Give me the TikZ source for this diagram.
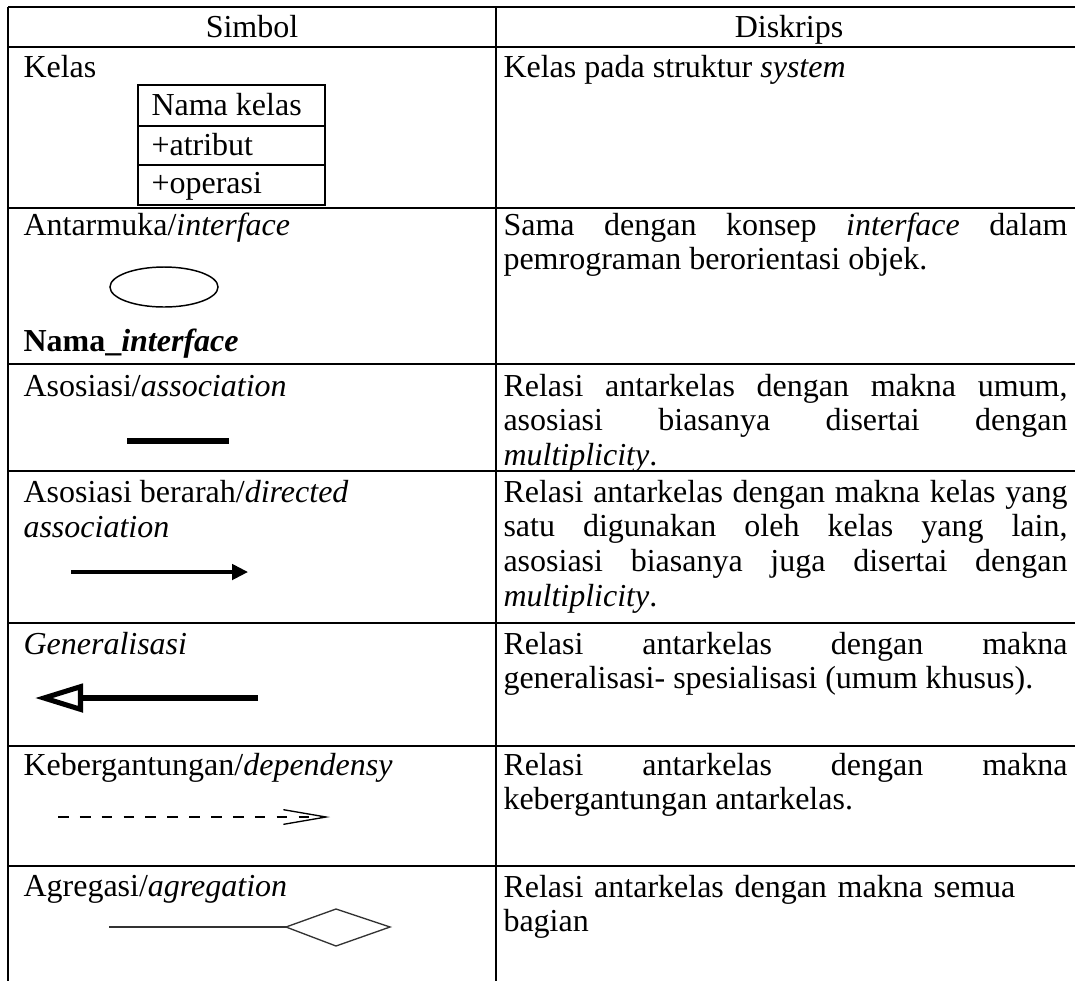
\documentclass[tikz,border=0pt]{standalone}
\usepackage{fontspec}
\setmainfont{Liberation Serif}
\usetikzlibrary{arrows.meta,positioning}

\begin{document}
\begin{tikzpicture}[x=0.375pt,y=-0.375pt,
    grid/.style={line width=0.8pt},
    txt/.style={anchor=base west,inner sep=0pt,font=\fontsize{12}{13}\selectfont},
    desc/.style={txt,text width=211.5pt,align=justify},
    hdr/.style={anchor=base,inner sep=0pt,font=\fontsize{12}{13}\selectfont}]
      \def\xl{8}
      \def\xm{496}
      \def\xr{1090}
      \def\xs{23}
      \def\xd{503}

      \useasboundingbox (0,0) rectangle (1075,980);
      \clip (0,0) rectangle (1075,980);

      \foreach \y in {7,47,208,364,471,623,746,866}
        \draw[grid] (\xl,\y) -- (\xr,\y);
      \draw[grid] (\xl,7) -- (\xl,990);
      \draw[grid] (\xm,7) -- (\xm,990);

      \node[hdr] (simbol) at (252,37) {Simbol};
      \node[hdr] (diskrips) at (789,37) {Diskrips};

      \node[txt] (kelas) at (\xs,77) {Kelas};
      \draw[grid] (138,85) rectangle (325,126);
      \draw[grid] (138,126) rectangle (325,165);
      \draw[grid] (138,165) rectangle (325,205);
      \node[txt] (namakelas) at (151,115) {Nama kelas};
      \node[txt] (atribut) at (151,155) {+atribut};
      \node[txt] (operasi) at (151,193) {+operasi};
      \node[desc] (dkelas) at (\xd,77) {Kelas pada struktur \textit{system}};

      \node[txt] (antarmuka) at (\xs,235) {Antarmuka/\textit{interface}};
      \draw[line width=0.55pt] (164,287) ellipse [x radius=54, y radius=20];
      \node[txt] (namaif) at (\xs,351) {\textbf{Nama\_\textit{interface}}};
      \node[desc] (dantarmuka) at (\xd,235) {Sama dengan konsep \textit{interface} dalam\linebreak
        pemrograman berorientasi objek.};

      \node[txt] (asosiasi) at (\xs,396) {Asosiasi/\textit{association}};
      \coordinate (as1) at (127,441);
      \coordinate (as2) at (229,441);
      \draw[line width=2.25pt] (as1) -- (as2);
      \node[desc] (dasosiasi) at (\xd,396) {Relasi antarkelas dengan makna umum,\linebreak
        asosiasi biasanya disertai dengan\linebreak \textit{multiplicity}.};

      \node[txt] (berarah) at (\xs,502) {Asosiasi berarah/\textit{directed}};
      \node[txt] (berarahb) at (\xs,537) {\textit{association}};
      \coordinate (ar1) at (71,572);
      \coordinate (ar2) at (248,572);
      \draw[line width=1.3pt,-{Triangle[length=6pt,width=5.8pt]}] (ar1) -- (ar2);
      \node[desc] (dberarah) at (\xd,502) {Relasi antarkelas dengan makna kelas yang\linebreak
        satu digunakan oleh kelas yang lain,\linebreak
        asosiasi biasanya juga disertai dengan\linebreak \textit{multiplicity}.};

      \node[txt] (general) at (\xs,654) {\textit{Generalisasi}};
      \coordinate (ge1) at (258,698);
      \coordinate (ge2) at (35,698);
      \draw[line width=1.9pt,-{Triangle[open,length=18pt,width=10.5pt]}] (ge1) -- (ge2);
      \node[desc] (dgeneral) at (\xd,654) {Relasi antarkelas dengan makna\linebreak
        generalisasi- spesialisasi (umum khusus).};

      \node[txt] (gantung) at (\xs,775) {Kebergantungan/\textit{dependensy}};
      \coordinate (ke1) at (58,817);
      \coordinate (ke2) at (330,817);
      \draw[line width=0.5pt,dash pattern=on 4pt off 4.2pt,-{Straight Barb[length=16pt,width=5.5pt]}] (ke1) -- (ke2);
      \node[desc] (dgantung) at (\xd,775) {Relasi antarkelas dengan makna\linebreak
        kebergantungan antarkelas.};

      \node[txt] (agregasi) at (\xs,896) {Agregasi/\textit{agregation}};
      \coordinate (ag1) at (109,927);
      \coordinate (ag2) at (286,927);
      \draw[line width=0.5pt,black!80] (ag1) -- (ag2);
      \draw[line width=0.5pt,black!80] (ag2) -- (336,909) -- (390,927) -- (336,946) -- cycle;
      \node[txt,text width=211.5pt,align=left] (dagregasi) at (\xd,897) {Relasi antarkelas dengan makna semua\\
        bagian};
    \end{tikzpicture}
\end{document}
